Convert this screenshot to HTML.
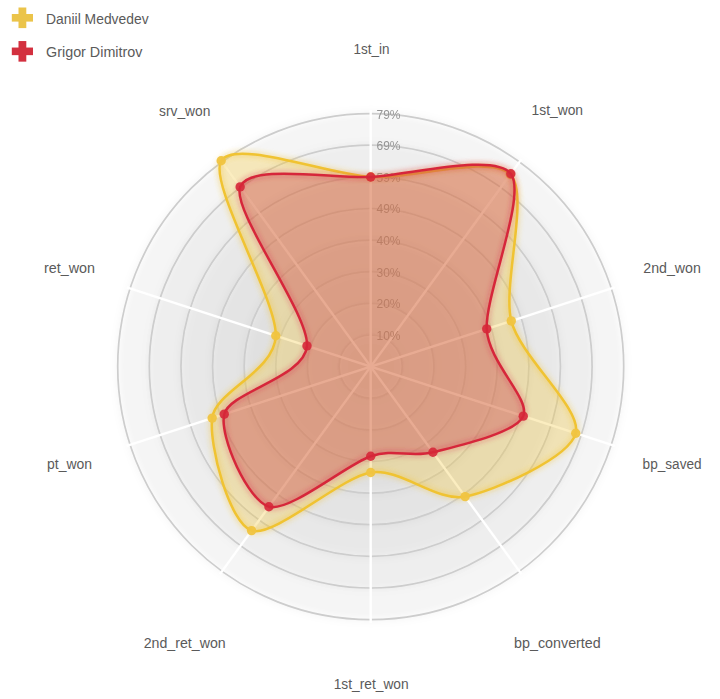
<!DOCTYPE html><html><head><meta charset="utf-8"><style>html,body{margin:0;padding:0;background:#fff;width:720px;height:699px;overflow:hidden}svg{display:block;font-family:"Liberation Sans",sans-serif}</style></head><body>
<svg width="720" height="699" viewBox="0 0 720 699">
<defs><filter id="sh" x="-20%" y="-20%" width="140%" height="140%"><feGaussianBlur stdDeviation="3"/></filter><filter id="gl" x="-20%" y="-20%" width="140%" height="140%"><feGaussianBlur stdDeviation="2.5"/></filter><filter id="soft" x="-5%" y="-5%" width="110%" height="110%"><feGaussianBlur stdDeviation="0.5"/></filter><filter id="dsh" x="-10%" y="-10%" width="120%" height="120%"><feGaussianBlur stdDeviation="5"/></filter></defs>
<g filter="url(#soft)">
<circle cx="370.7" cy="366.6" r="253.00" fill="#000" fill-opacity="0.056" filter="url(#dsh)"/>
<circle cx="370.7" cy="366.6" r="253.00" fill="#fff" fill-opacity="0.23"/>
<circle cx="370.7" cy="366.6" r="221.38" fill="#000" fill-opacity="0.056" filter="url(#dsh)"/>
<circle cx="370.7" cy="366.6" r="221.38" fill="#fff" fill-opacity="0.23"/>
<circle cx="370.7" cy="366.6" r="189.75" fill="#000" fill-opacity="0.056" filter="url(#dsh)"/>
<circle cx="370.7" cy="366.6" r="189.75" fill="#fff" fill-opacity="0.23"/>
<circle cx="370.7" cy="366.6" r="158.12" fill="#000" fill-opacity="0.056" filter="url(#dsh)"/>
<circle cx="370.7" cy="366.6" r="158.12" fill="#fff" fill-opacity="0.23"/>
<circle cx="370.7" cy="366.6" r="126.50" fill="#000" fill-opacity="0.056" filter="url(#dsh)"/>
<circle cx="370.7" cy="366.6" r="126.50" fill="#fff" fill-opacity="0.23"/>
<circle cx="370.7" cy="366.6" r="94.88" fill="#000" fill-opacity="0.056" filter="url(#dsh)"/>
<circle cx="370.7" cy="366.6" r="94.88" fill="#fff" fill-opacity="0.23"/>
<circle cx="370.7" cy="366.6" r="63.25" fill="#000" fill-opacity="0.056" filter="url(#dsh)"/>
<circle cx="370.7" cy="366.6" r="63.25" fill="#fff" fill-opacity="0.23"/>
<circle cx="370.7" cy="366.6" r="31.62" fill="#000" fill-opacity="0.056" filter="url(#dsh)"/>
<circle cx="370.7" cy="366.6" r="31.62" fill="#fff" fill-opacity="0.23"/>
<circle cx="370.7" cy="366.6" r="253.00" fill="none" stroke="#cdcdcd" stroke-width="1.7"/>
<circle cx="370.7" cy="366.6" r="221.38" fill="none" stroke="#cdcdcd" stroke-width="1.7"/>
<circle cx="370.7" cy="366.6" r="189.75" fill="none" stroke="#cdcdcd" stroke-width="1.7"/>
<circle cx="370.7" cy="366.6" r="158.12" fill="none" stroke="#cdcdcd" stroke-width="1.7"/>
<circle cx="370.7" cy="366.6" r="126.50" fill="none" stroke="#cdcdcd" stroke-width="1.7"/>
<circle cx="370.7" cy="366.6" r="94.88" fill="none" stroke="#cdcdcd" stroke-width="1.7"/>
<circle cx="370.7" cy="366.6" r="63.25" fill="none" stroke="#cdcdcd" stroke-width="1.7"/>
<circle cx="370.7" cy="366.6" r="31.62" fill="none" stroke="#cdcdcd" stroke-width="1.7"/>
<line x1="370.7" y1="366.6" x2="370.70" y2="110.10" stroke="#fff" stroke-width="2.4"/>
<line x1="370.7" y1="366.6" x2="521.47" y2="159.09" stroke="#fff" stroke-width="2.4"/>
<line x1="370.7" y1="366.6" x2="614.65" y2="287.34" stroke="#fff" stroke-width="2.4"/>
<line x1="370.7" y1="366.6" x2="614.65" y2="445.86" stroke="#fff" stroke-width="2.4"/>
<line x1="370.7" y1="366.6" x2="521.47" y2="574.11" stroke="#fff" stroke-width="2.4"/>
<line x1="370.7" y1="366.6" x2="370.70" y2="623.10" stroke="#fff" stroke-width="2.4"/>
<line x1="370.7" y1="366.6" x2="219.93" y2="574.11" stroke="#fff" stroke-width="2.4"/>
<line x1="370.7" y1="366.6" x2="126.75" y2="445.86" stroke="#fff" stroke-width="2.4"/>
<line x1="370.7" y1="366.6" x2="126.75" y2="287.34" stroke="#fff" stroke-width="2.4"/>
<line x1="370.7" y1="366.6" x2="219.93" y2="159.09" stroke="#fff" stroke-width="2.4"/>
<text x="376.5" y="339.98" font-size="12.5" fill="#959595" textLength="24" lengthAdjust="spacingAndGlyphs">10%</text>
<text x="376.5" y="308.35" font-size="12.5" fill="#959595" textLength="24" lengthAdjust="spacingAndGlyphs">20%</text>
<text x="376.5" y="276.73" font-size="12.5" fill="#959595" textLength="24" lengthAdjust="spacingAndGlyphs">30%</text>
<text x="376.5" y="245.10" font-size="12.5" fill="#959595" textLength="24" lengthAdjust="spacingAndGlyphs">40%</text>
<text x="376.5" y="213.48" font-size="12.5" fill="#959595" textLength="24" lengthAdjust="spacingAndGlyphs">49%</text>
<text x="376.5" y="181.85" font-size="12.5" fill="#959595" textLength="24" lengthAdjust="spacingAndGlyphs">59%</text>
<text x="376.5" y="150.23" font-size="12.5" fill="#959595" textLength="24" lengthAdjust="spacingAndGlyphs">69%</text>
<text x="376.5" y="118.60" font-size="12.5" fill="#959595" textLength="24" lengthAdjust="spacingAndGlyphs">79%</text>
<path d="M370.70,177.00 C411.18,178.91 490.62,154.31 510.30,174.46 C529.98,194.61 502.10,284.70 511.27,320.93 C520.43,357.15 582.20,408.63 575.75,433.22 C569.29,457.82 493.86,491.11 465.16,496.61 C436.45,502.11 400.60,467.74 370.70,472.50 C340.80,477.26 273.75,538.20 251.56,530.59 C229.36,522.97 208.77,445.39 212.16,418.11 C215.55,390.84 274.52,371.79 275.78,335.76 C277.05,299.73 207.88,183.01 221.17,160.79 C234.46,138.56 330.22,175.09 370.70,177.00Z" fill="rgba(242,200,60,0.32)" stroke="none"/>
<path d="M370.70,177.00 C411.18,178.91 490.62,154.31 510.30,174.46 C529.98,194.61 502.10,284.70 511.27,320.93 C520.43,357.15 582.20,408.63 575.75,433.22 C569.29,457.82 493.86,491.11 465.16,496.61 C436.45,502.11 400.60,467.74 370.70,472.50 C340.80,477.26 273.75,538.20 251.56,530.59 C229.36,522.97 208.77,445.39 212.16,418.11 C215.55,390.84 274.52,371.79 275.78,335.76 C277.05,299.73 207.88,183.01 221.17,160.79 C234.46,138.56 330.22,175.09 370.70,177.00Z" fill="none" stroke="rgba(240,196,50,0.35)" stroke-width="6" filter="url(#gl)"/>
<path d="M370.70,177.00 C411.18,178.91 490.62,154.31 510.30,174.46 C529.98,194.61 502.10,284.70 511.27,320.93 C520.43,357.15 582.20,408.63 575.75,433.22 C569.29,457.82 493.86,491.11 465.16,496.61 C436.45,502.11 400.60,467.74 370.70,472.50 C340.80,477.26 273.75,538.20 251.56,530.59 C229.36,522.97 208.77,445.39 212.16,418.11 C215.55,390.84 274.52,371.79 275.78,335.76 C277.05,299.73 207.88,183.01 221.17,160.79 C234.46,138.56 330.22,175.09 370.70,177.00Z" fill="none" stroke="#f0c332" stroke-width="2.5"/>
<circle cx="370.70" cy="177.00" r="4.7" fill="#f0c440" fill-opacity="0.95"/>
<circle cx="510.30" cy="174.46" r="4.7" fill="#f0c440" fill-opacity="0.95"/>
<circle cx="511.27" cy="320.93" r="4.7" fill="#f0c440" fill-opacity="0.95"/>
<circle cx="575.75" cy="433.22" r="4.7" fill="#f0c440" fill-opacity="0.95"/>
<circle cx="465.16" cy="496.61" r="4.7" fill="#f0c440" fill-opacity="0.95"/>
<circle cx="370.70" cy="472.50" r="4.7" fill="#f0c440" fill-opacity="0.95"/>
<circle cx="251.56" cy="530.59" r="4.7" fill="#f0c440" fill-opacity="0.95"/>
<circle cx="212.16" cy="418.11" r="4.7" fill="#f0c440" fill-opacity="0.95"/>
<circle cx="275.78" cy="335.76" r="4.7" fill="#f0c440" fill-opacity="0.95"/>
<circle cx="221.17" cy="160.79" r="4.7" fill="#f0c440" fill-opacity="0.95"/>
<path d="M370.70,177.00 C408.59,175.15 494.58,152.46 510.83,173.73 C527.07,195.00 484.99,294.96 486.73,328.90 C488.47,362.84 530.78,398.89 523.25,416.17 C515.72,433.44 454.30,446.67 432.95,452.27 C411.59,457.88 393.67,448.58 370.70,456.20 C347.73,463.82 289.40,512.60 268.90,506.72 C248.39,500.84 218.91,436.70 224.24,414.19 C229.57,391.67 304.75,377.71 306.98,345.90 C309.21,314.08 231.23,210.56 240.15,186.92 C249.07,163.27 332.81,178.85 370.70,177.00Z" fill="rgba(200,60,70,0.37)" stroke="none"/>
<path d="M370.70,177.00 C408.59,175.15 494.58,152.46 510.83,173.73 C527.07,195.00 484.99,294.96 486.73,328.90 C488.47,362.84 530.78,398.89 523.25,416.17 C515.72,433.44 454.30,446.67 432.95,452.27 C411.59,457.88 393.67,448.58 370.70,456.20 C347.73,463.82 289.40,512.60 268.90,506.72 C248.39,500.84 218.91,436.70 224.24,414.19 C229.57,391.67 304.75,377.71 306.98,345.90 C309.21,314.08 231.23,210.56 240.15,186.92 C249.07,163.27 332.81,178.85 370.70,177.00Z" fill="none" stroke="rgba(214,40,57,0.25)" stroke-width="6" filter="url(#gl)"/>
<path d="M370.70,177.00 C408.59,175.15 494.58,152.46 510.83,173.73 C527.07,195.00 484.99,294.96 486.73,328.90 C488.47,362.84 530.78,398.89 523.25,416.17 C515.72,433.44 454.30,446.67 432.95,452.27 C411.59,457.88 393.67,448.58 370.70,456.20 C347.73,463.82 289.40,512.60 268.90,506.72 C248.39,500.84 218.91,436.70 224.24,414.19 C229.57,391.67 304.75,377.71 306.98,345.90 C309.21,314.08 231.23,210.56 240.15,186.92 C249.07,163.27 332.81,178.85 370.70,177.00Z" fill="none" stroke="#d6283a" stroke-width="2.5"/>
<circle cx="370.70" cy="177.00" r="4.7" fill="#d62839" fill-opacity="0.9"/>
<circle cx="510.83" cy="173.73" r="4.7" fill="#d62839" fill-opacity="0.9"/>
<circle cx="486.73" cy="328.90" r="4.7" fill="#d62839" fill-opacity="0.9"/>
<circle cx="523.25" cy="416.17" r="4.7" fill="#d62839" fill-opacity="0.9"/>
<circle cx="432.95" cy="452.27" r="4.7" fill="#d62839" fill-opacity="0.9"/>
<circle cx="370.70" cy="456.20" r="4.7" fill="#d62839" fill-opacity="0.9"/>
<circle cx="268.90" cy="506.72" r="4.7" fill="#d62839" fill-opacity="0.9"/>
<circle cx="224.24" cy="414.19" r="4.7" fill="#d62839" fill-opacity="0.9"/>
<circle cx="306.98" cy="345.90" r="4.7" fill="#d62839" fill-opacity="0.9"/>
<circle cx="240.15" cy="186.92" r="4.7" fill="#d62839" fill-opacity="0.9"/>
</g>
<text x="353.40" y="53.9" font-size="14.0" fill="#5a5a5a" textLength="36" lengthAdjust="spacingAndGlyphs">1st_in</text>
<text x="531.55" y="115.3" font-size="14.0" fill="#5a5a5a" textLength="51.5" lengthAdjust="spacingAndGlyphs">1st_won</text>
<text x="643.30" y="273.3" font-size="14.0" fill="#5a5a5a" textLength="57.6" lengthAdjust="spacingAndGlyphs">2nd_won</text>
<text x="642.60" y="469.3" font-size="14.0" fill="#5a5a5a" textLength="59" lengthAdjust="spacingAndGlyphs">bp_saved</text>
<text x="514.05" y="647.6" font-size="14.0" fill="#5a5a5a" textLength="86.7" lengthAdjust="spacingAndGlyphs">bp_converted</text>
<text x="333.70" y="688.6" font-size="14.0" fill="#5a5a5a" textLength="75" lengthAdjust="spacingAndGlyphs">1st_ret_won</text>
<text x="143.70" y="648.3" font-size="14.0" fill="#5a5a5a" textLength="82" lengthAdjust="spacingAndGlyphs">2nd_ret_won</text>
<text x="47.00" y="469.4" font-size="14.0" fill="#5a5a5a" textLength="45" lengthAdjust="spacingAndGlyphs">pt_won</text>
<text x="44.00" y="273.3" font-size="14.0" fill="#5a5a5a" textLength="51" lengthAdjust="spacingAndGlyphs">ret_won</text>
<text x="159.00" y="115.6" font-size="14.0" fill="#5a5a5a" textLength="51.4" lengthAdjust="spacingAndGlyphs">srv_won</text>
<rect x="11.799999999999999" y="14.0" width="21.2" height="7.6" fill="#ebc44a"/><rect x="18.5" y="7.5" width="7.8" height="20.6" fill="#ebc44a"/>
<rect x="11.799999999999999" y="47.550000000000004" width="21.2" height="7.6" fill="#d3303f"/><rect x="18.5" y="41.05" width="7.8" height="20.6" fill="#d3303f"/>
<text x="46.1" y="23.8" font-size="14" fill="#5a5a5a" textLength="102.5" lengthAdjust="spacingAndGlyphs">Daniil Medvedev</text>
<text x="46.1" y="57.3" font-size="14" fill="#5a5a5a" textLength="96.3" lengthAdjust="spacingAndGlyphs">Grigor Dimitrov</text>
</svg></body></html>
